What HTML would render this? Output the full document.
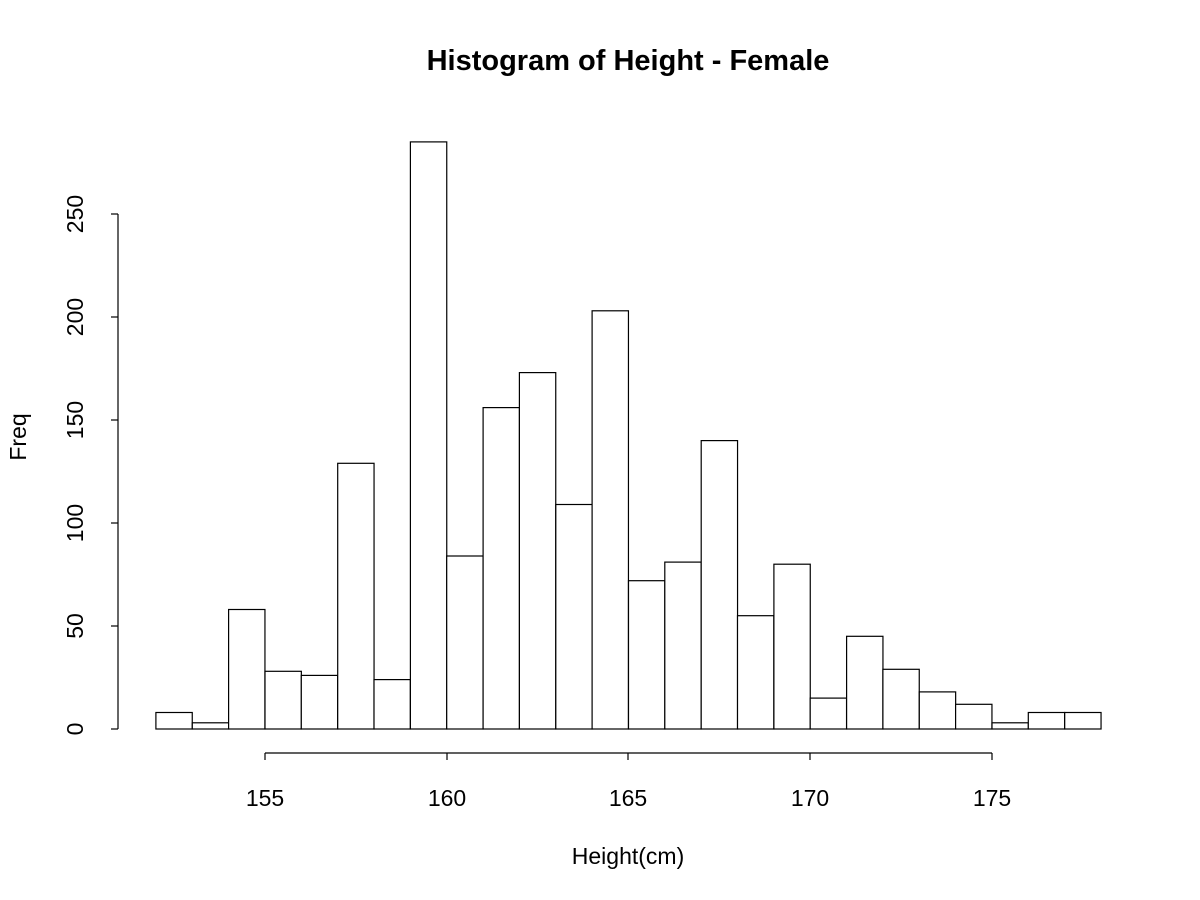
<!DOCTYPE html>
<html><head><meta charset="utf-8"><style>
html,body{margin:0;padding:0;background:#fff;}
svg{display:block;}
text{font-family:"Liberation Sans",sans-serif;fill:#000;}
</style></head><body>
<svg width="1200" height="900" viewBox="0 0 1200 900" xmlns="http://www.w3.org/2000/svg">
<rect width="1200" height="900" fill="#fff"/>
<text x="628" y="70" font-size="29" font-weight="bold" text-anchor="middle">Histogram of Height - Female</text>
<g fill="#fff" stroke="#000" stroke-width="1.2">
<rect x="155.9" y="712.5" width="36.35" height="16.5"/>
<rect x="192.3" y="722.8" width="36.35" height="6.2"/>
<rect x="228.6" y="609.5" width="36.35" height="119.5"/>
<rect x="265.0" y="671.3" width="36.35" height="57.7"/>
<rect x="301.3" y="675.4" width="36.35" height="53.6"/>
<rect x="337.7" y="463.3" width="36.35" height="265.7"/>
<rect x="374.0" y="679.6" width="36.35" height="49.4"/>
<rect x="410.4" y="141.9" width="36.35" height="587.1"/>
<rect x="446.7" y="556.0" width="36.35" height="173.0"/>
<rect x="483.1" y="407.6" width="36.35" height="321.4"/>
<rect x="519.4" y="372.6" width="36.35" height="356.4"/>
<rect x="555.8" y="504.5" width="36.35" height="224.5"/>
<rect x="592.1" y="310.8" width="36.35" height="418.2"/>
<rect x="628.5" y="580.7" width="36.35" height="148.3"/>
<rect x="664.8" y="562.1" width="36.35" height="166.9"/>
<rect x="701.2" y="440.6" width="36.35" height="288.4"/>
<rect x="737.5" y="615.7" width="36.35" height="113.3"/>
<rect x="773.9" y="564.2" width="36.35" height="164.8"/>
<rect x="810.2" y="698.1" width="36.35" height="30.9"/>
<rect x="846.6" y="636.3" width="36.35" height="92.7"/>
<rect x="882.9" y="669.3" width="36.35" height="59.7"/>
<rect x="919.3" y="691.9" width="36.35" height="37.1"/>
<rect x="955.6" y="704.3" width="36.35" height="24.7"/>
<rect x="992.0" y="722.8" width="36.35" height="6.2"/>
<rect x="1028.3" y="712.5" width="36.35" height="16.5"/>
<rect x="1064.7" y="712.5" width="36.35" height="16.5"/>
</g>
<g stroke="#000" stroke-width="1.2" fill="none">
<line x1="118" y1="729" x2="118" y2="214"/>
<line x1="111" y1="729" x2="118" y2="729"/>
<line x1="111" y1="626" x2="118" y2="626"/>
<line x1="111" y1="523" x2="118" y2="523"/>
<line x1="111" y1="420" x2="118" y2="420"/>
<line x1="111" y1="317" x2="118" y2="317"/>
<line x1="111" y1="214" x2="118" y2="214"/>
<line x1="265" y1="753" x2="992" y2="753"/>
<line x1="265" y1="753" x2="265" y2="760"/>
<line x1="447" y1="753" x2="447" y2="760"/>
<line x1="628" y1="753" x2="628" y2="760"/>
<line x1="810" y1="753" x2="810" y2="760"/>
<line x1="992" y1="753" x2="992" y2="760"/>
</g>
<g font-size="23" text-anchor="middle">
<text transform="translate(83,729) rotate(-90)">0</text>
<text transform="translate(83,626) rotate(-90)">50</text>
<text transform="translate(83,523) rotate(-90)">100</text>
<text transform="translate(83,420) rotate(-90)">150</text>
<text transform="translate(83,317) rotate(-90)">200</text>
<text transform="translate(83,214) rotate(-90)">250</text>
<text x="265" y="806">155</text>
<text x="447" y="806">160</text>
<text x="628" y="806">165</text>
<text x="810" y="806">170</text>
<text x="992" y="806">175</text>
<text x="628" y="864">Height(cm)</text>
<text transform="translate(26,437) rotate(-90)">Freq</text>
</g>
</svg>
</body></html>
